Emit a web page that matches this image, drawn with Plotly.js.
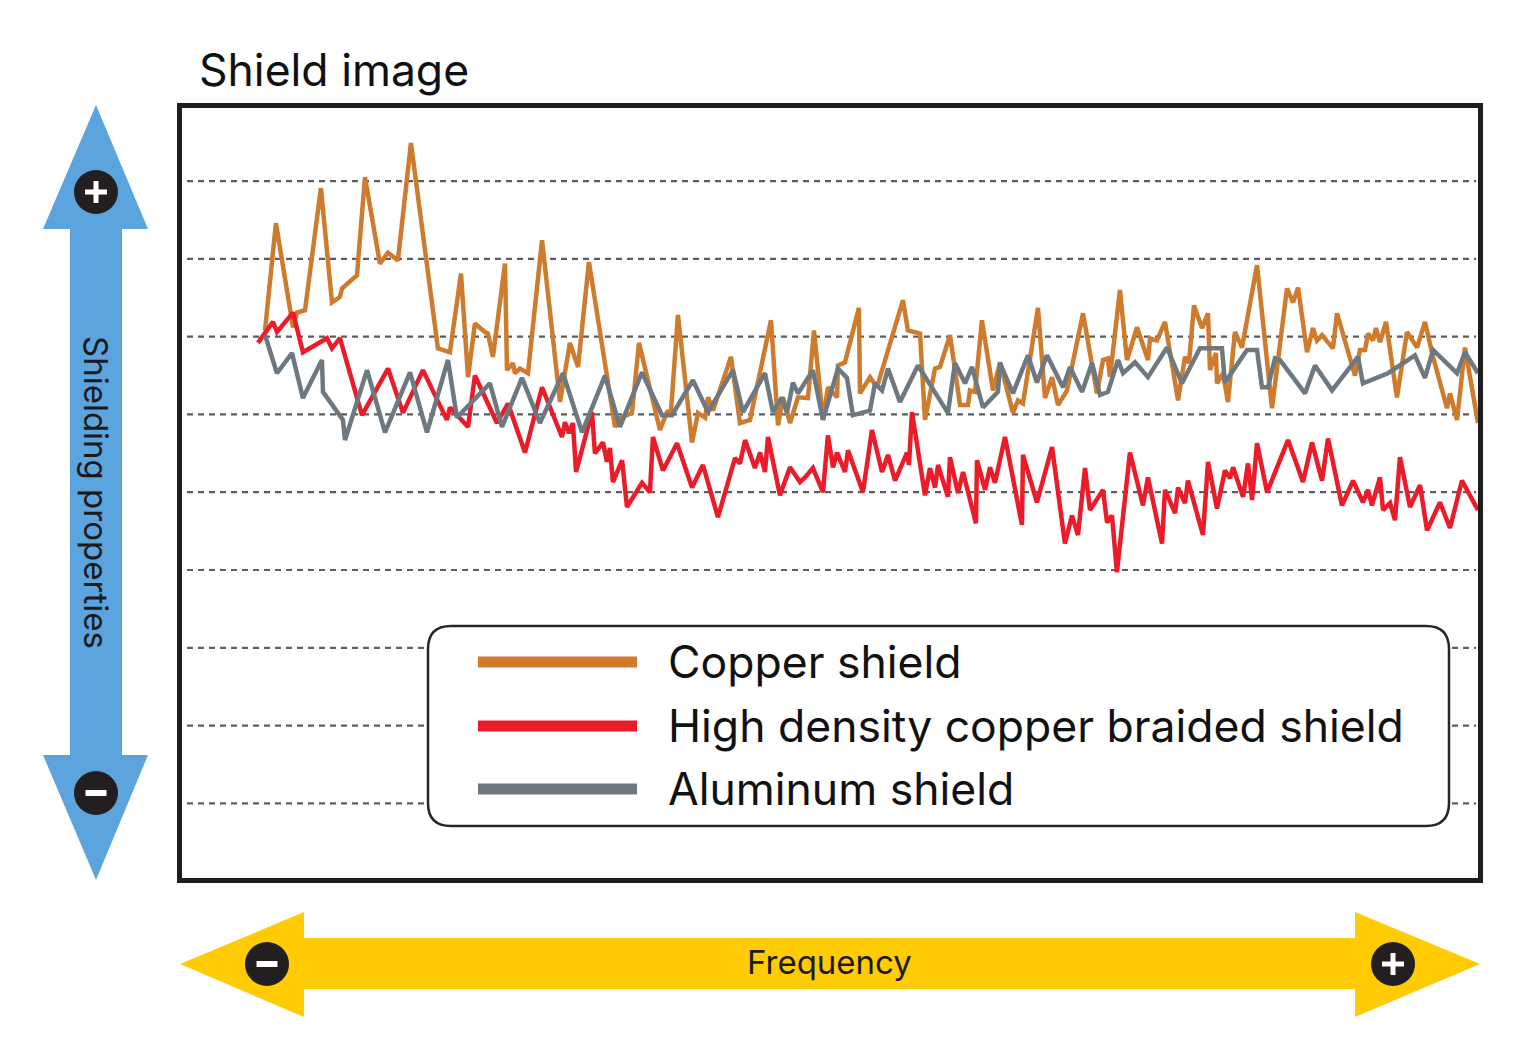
<!DOCTYPE html>
<html>
<head>
<meta charset="utf-8">
<script src="https://cdn.plot.ly/plotly-3.0.1.min.js"></script>
<style>
  html, body { margin: 0; padding: 0; background: #fff; }
  #chart { width: 1528px; height: 1046px; }
</style>
</head>
<body>
<div id="chart"></div>
<script>
// frequency (0-100, arbitrary) and shielding level (0-10, arbitrary)
let copperX = [6.68, 7.52, 8.83, 9.13, 9.75, 10.97, 11.82, 12.43, 12.59, 13.74, 14.35, 15.50, 16.12, 16.88, 17.88,
  19.95, 20.87, 21.72, 22.26, 22.79, 23.56, 23.79, 24.17, 25.10, 25.25, 25.71, 25.86, 26.25, 26.86, 27.94,
  29.32, 30.08, 30.70, 31.54, 33.54, 34.00, 34.84, 35.38, 36.99, 37.53, 37.84, 38.37, 39.45, 39.91, 40.45,
  40.68, 41.06, 42.44, 43.13, 43.90, 45.51, 46.05, 46.43, 46.97, 47.58, 48.35, 48.81, 49.50, 49.88, 50.58,
  50.65, 51.19, 52.26, 52.34, 53.11, 53.65, 55.64, 56.02, 56.95, 57.33, 58.10, 58.48, 59.25, 60.02, 60.63,
  60.78, 61.17, 61.70, 62.55, 63.09, 64.08, 64.47, 64.85, 66.00, 66.54, 67.08, 67.54, 68.23, 69.46, 70.53,
  70.99, 71.37, 71.53, 72.29, 72.83, 73.60, 74.44, 74.60, 75.13, 75.75, 76.75, 77.28, 77.59, 77.97, 78.59,
  79.05, 79.20, 79.66, 79.74, 80.20, 80.58, 81.12, 81.66, 82.81, 83.96, 85.11, 85.57, 85.96, 86.65, 87.11,
  87.41, 87.80, 88.64, 88.95, 90.33, 90.71, 91.10, 91.33, 91.71, 91.94, 92.25, 92.71, 93.55, 94.32, 95.09,
  95.70, 96.32, 97.01, 97.39, 97.62, 98.16, 98.77, 99.77]
let copperY = [7.08, 8.46, 7.12, 7.31, 7.34, 8.91, 7.44, 7.51, 7.62, 7.79, 9.05, 7.94, 8.08, 7.98, 9.49,
  6.85, 6.80, 7.81, 6.48, 7.17, 7.06, 7.04, 6.74, 7.94, 6.57, 6.66, 6.53, 6.59, 6.53, 8.24,
  6.16, 6.92, 6.61, 7.96, 5.84, 5.96, 6.02, 6.92, 5.80, 6.03, 6.05, 7.28, 5.64, 6.02, 5.96,
  6.22, 6.05, 6.74, 5.89, 5.93, 7.21, 5.86, 6.22, 5.89, 6.22, 6.21, 7.08, 5.93, 6.35, 6.22,
  6.63, 6.67, 7.37, 6.27, 6.48, 6.35, 7.47, 7.08, 7.04, 5.93, 6.59, 6.61, 7.02, 6.12, 6.12,
  6.31, 6.29, 7.21, 6.31, 6.67, 6.02, 6.18, 6.14, 7.37, 6.21, 6.48, 6.12, 6.31, 7.30, 6.27,
  6.70, 6.72, 6.48, 7.60, 6.70, 7.12, 6.70, 6.98, 6.95, 7.19, 6.18, 6.74, 6.66, 7.40, 7.11,
  7.30, 6.57, 6.79, 6.40, 6.53, 6.16, 7.06, 6.86, 7.92, 6.08, 7.62, 7.44, 7.63, 6.80, 7.11,
  6.95, 7.02, 6.85, 7.30, 6.50, 6.83, 6.83, 7.04, 6.95, 7.11, 6.93, 7.19, 6.22, 7.06, 6.86,
  7.19, 6.74, 6.34, 6.08, 6.27, 5.93, 6.86, 5.89]

let braidedX = [6.14, 7.29, 7.60, 8.83, 9.59, 11.44, 11.82, 12.43, 14.12, 16.12, 17.27, 18.80, 20.64, 20.87, 22.26,
  22.79, 24.48, 25.33, 26.63, 27.94, 29.47, 29.70, 30.01, 30.31, 30.55, 31.77, 32.00, 32.62, 32.92, 33.15,
  33.38, 34.08, 34.46, 35.61, 36.22, 36.45, 37.22, 38.30, 39.45, 40.29, 41.44, 42.75, 43.13, 43.52, 44.28,
  44.67, 45.05, 45.28, 46.20, 46.97, 47.74, 48.12, 48.73, 49.50, 49.88, 50.27, 50.58, 51.19, 51.42, 52.57,
  53.26, 54.03, 54.49, 55.03, 55.95, 56.10, 56.33, 57.33, 57.71, 58.10, 58.33, 59.09, 59.25, 59.86, 60.25,
  61.24, 61.32, 61.94, 62.32, 62.70, 63.47, 64.77, 64.85, 65.92, 67.08, 68.07, 68.61, 69.07, 69.61, 69.99,
  70.99, 71.30, 71.68, 72.06, 73.06, 74.06, 74.44, 75.52, 75.75, 76.52, 76.75, 77.28, 77.51, 78.66, 79.05,
  79.74, 80.35, 80.74, 80.97, 81.74, 82.12, 82.43, 82.81, 83.58, 85.19, 86.34, 87.03, 87.80, 88.26, 89.33,
  90.18, 90.94, 91.33, 91.63, 92.25, 92.48, 93.02, 93.40, 93.78, 94.55, 95.32, 95.86, 96.85, 97.62, 98.54,
  99.77]
let braidedY = [6.92, 7.19, 7.06, 7.31, 6.80, 6.98, 6.85, 6.98, 5.99, 6.59, 6.02, 6.57, 5.93, 6.09, 5.84,
  6.50, 5.89, 6.14, 5.51, 6.35, 5.71, 5.90, 5.76, 5.89, 5.26, 6.03, 5.50, 5.64, 5.39, 5.57,
  5.13, 5.41, 4.81, 5.12, 5.00, 5.71, 5.28, 5.63, 5.06, 5.35, 4.68, 5.44, 5.37, 5.67, 5.31,
  5.51, 5.26, 5.71, 4.96, 5.32, 5.13, 5.19, 5.31, 5.00, 5.73, 5.32, 5.51, 5.26, 5.54, 5.00,
  5.80, 5.26, 5.48, 5.15, 5.51, 5.35, 6.03, 4.96, 5.31, 5.06, 5.35, 4.94, 5.45, 4.99, 5.26,
  4.60, 5.41, 5.03, 5.32, 5.12, 5.71, 4.58, 5.48, 4.87, 5.58, 4.34, 4.70, 4.45, 5.31, 4.77,
  5.03, 4.61, 4.70, 3.97, 5.51, 4.83, 5.19, 4.34, 5.03, 4.73, 5.06, 4.86, 5.15, 4.45, 5.39,
  4.79, 5.28, 5.18, 5.32, 4.94, 5.37, 4.90, 5.63, 5.00, 5.67, 5.13, 5.64, 5.15, 5.69, 4.83,
  5.15, 4.87, 5.03, 4.83, 5.19, 4.77, 4.86, 4.64, 5.45, 4.81, 5.09, 4.51, 4.87, 4.54, 5.15,
  4.77]

let aluminumX = [6.68, 7.60, 8.75, 9.59, 11.05, 11.13, 12.66, 12.82, 14.51, 15.89, 17.81, 19.11, 20.72, 21.41, 23.94,
  24.87, 26.40, 27.78, 29.55, 31.01, 32.77, 33.92, 35.61, 37.15, 37.91, 39.52, 40.68, 42.59, 43.36, 45.05,
  45.66, 46.35, 46.74, 47.20, 47.58, 48.73, 49.50, 50.65, 51.34, 51.80, 53.11, 53.49, 54.03, 54.49, 55.41,
  56.79, 59.09, 59.63, 60.40, 60.94, 61.78, 62.93, 63.09, 64.08, 65.23, 65.92, 66.69, 67.92, 68.46, 69.38,
  70.15, 70.76, 71.37, 72.14, 72.53, 73.45, 74.44, 75.90, 77.05, 78.43, 80.12, 80.35, 82.04, 82.81, 83.19,
  83.65, 84.19, 84.57, 86.49, 87.26, 88.57, 90.56, 90.94, 92.86, 94.93, 95.70, 96.32, 98.16, 98.77, 99.77]
let aluminumY = [7.02, 6.53, 6.79, 6.21, 6.70, 6.29, 5.93, 5.67, 6.57, 5.77, 6.54, 5.77, 6.70, 5.96, 6.40,
  5.84, 6.47, 5.89, 6.53, 5.77, 6.50, 5.84, 6.54, 5.99, 5.99, 6.44, 6.03, 6.57, 6.03, 6.53,
  6.03, 6.22, 6.02, 6.41, 6.27, 6.57, 5.93, 6.59, 6.47, 5.99, 6.05, 6.40, 6.31, 6.59, 6.16,
  6.63, 6.02, 6.66, 6.40, 6.61, 6.09, 6.29, 6.66, 6.27, 6.76, 6.41, 6.76, 6.35, 6.61, 6.29,
  6.66, 6.25, 6.29, 6.70, 6.53, 6.67, 6.48, 6.86, 6.40, 6.85, 6.85, 6.41, 6.83, 6.83, 6.35,
  6.35, 6.72, 6.70, 6.27, 6.63, 6.31, 6.74, 6.40, 6.53, 6.76, 6.47, 6.83, 6.53, 6.80, 6.53]

let seriesNames = ['Copper shield', 'High density copper braided shield', 'Aluminum shield']
let seriesColors = ['#cf7b2e', '#eb1c29', '#6e7880']
let gridLevels = [1, 2, 3, 4, 5, 6, 7, 8, 9]

// page geometry, used for the decorations around the plot
const W = 1528, H = 1046
const M = { l: 182, r: 50, t: 108, b: 168 }
const plotW = W - M.l - M.r
const plotH = H - M.t - M.b
function px(x) { return (x - M.l) / plotW }
function py(y) { return (H - M.b - y) / plotH }
function poly(pts) {
    return 'M' + pts.map(p => px(p[0]) + ',' + py(p[1])).join('L') + 'Z'
}
function rect(x0, y0, x1, y1, color) {
    return { type: 'rect', xref: 'paper', yref: 'paper', x0: px(x0), x1: px(x1), y0: py(y1), y1: py(y0),
        fillcolor: color, line: { width: 0 }, layer: 'above' }
}
function badge(cx, cy, plus) {
    let s = [{ type: 'circle', xref: 'paper', yref: 'paper', x0: px(cx - 22), x1: px(cx + 22),
        y0: py(cy + 22), y1: py(cy - 22), fillcolor: '#231f20', line: { width: 0 }, layer: 'above' }]
    if (plus) {
        s.push(rect(cx - 11, cy - 2.5, cx + 11, cy + 2.5, '#fff'))
        s.push(rect(cx - 2.5, cy - 11, cx + 2.5, cy + 11, '#fff'))
    } else {
        s.push(rect(cx - 10.5, cy - 3, cx + 10.5, cy + 3, '#fff'))
    }
    return s
}
function roundBox(x0, y0, x1, y1, r) {
    let P = (x, y) => px(x) + ',' + py(y)
    return 'M' + P(x0 + r, y0) + 'L' + P(x1 - r, y0) + 'Q' + P(x1, y0) + ' ' + P(x1, y0 + r) +
        'L' + P(x1, y1 - r) + 'Q' + P(x1, y1) + ' ' + P(x1 - r, y1) +
        'L' + P(x0 + r, y1) + 'Q' + P(x0, y1) + ' ' + P(x0, y1 - r) +
        'L' + P(x0, y0 + r) + 'Q' + P(x0, y0) + ' ' + P(x0 + r, y0) + 'Z'
}

let xs = [copperX, braidedX, aluminumX]
let ys = [copperY, braidedY, aluminumY]
let traces = []
for (let i = 0; i < 3; i++) {
    traces.push({
        x: xs[i],
        y: ys[i],
        name: seriesNames[i],
        mode: 'lines',
        line: { color: seriesColors[i], width: 4.5 },
        hoverinfo: 'skip'
    })
}

let shapes = []
// dashed guide lines, a little inset from the frame
for (let i = 0; i < gridLevels.length; i++) {
    shapes.push({ type: 'line', xref: 'paper', yref: 'y', layer: 'below',
        x0: px(187), x1: px(1476), y0: gridLevels[i], y1: gridLevels[i],
        line: { color: '#5e5e5e', width: 2.2, dash: '6px,5px' } })
}
shapes.push(
    { type: 'path', xref: 'paper', yref: 'paper', layer: 'above', fillcolor: '#5ba4de', line: { width: 0 },
      path: poly([[96, 105], [148, 229], [122, 229], [122, 755], [148, 755], [96, 880], [43, 755], [70, 755], [70, 229], [43, 229]]) },
    { type: 'path', xref: 'paper', yref: 'paper', layer: 'above', fillcolor: '#ffcb05', line: { width: 0 },
      path: poly([[180, 964], [304, 912], [304, 938], [1355, 938], [1355, 912], [1480, 964], [1355, 1017], [1355, 989], [304, 989], [304, 1017]]) },
    { type: 'path', xref: 'paper', yref: 'paper', layer: 'above', fillcolor: '#fff', line: { color: '#262626', width: 2.5 },
      path: roundBox(428, 626, 1449, 826, 23) }
)
shapes = shapes.concat(badge(96, 192, true), badge(96, 793, false), badge(267, 964, false), badge(1393, 964, true))

let annotations = [
    { text: 'Shielding properties', xref: 'paper', yref: 'paper', x: px(96), y: py(492), textangle: 90,
      xanchor: 'center', yanchor: 'middle', showarrow: false, font: { size: 33, color: '#1a1a1a' } },
    { text: 'Frequency', xref: 'paper', yref: 'paper', x: px(829), y: py(962),
      xanchor: 'center', yanchor: 'middle', showarrow: false, font: { size: 33, color: '#1a1a1a' } }
]
let legendRows = [662, 726, 789]
for (let i = 0; i < 3; i++) {
    shapes.push({ type: 'line', xref: 'paper', yref: 'paper', layer: 'above',
        x0: px(478), x1: px(637), y0: py(legendRows[i]), y1: py(legendRows[i]),
        line: { color: seriesColors[i], width: 11 } })
    annotations.push({ text: seriesNames[i], xref: 'paper', yref: 'paper', x: px(666), y: py(legendRows[i]),
        xanchor: 'left', yanchor: 'middle', showarrow: false, font: { size: 44.5, color: '#111' } })
}

Plotly.newPlot('chart', traces, {
    width: W,
    height: H,
    margin: M,
    paper_bgcolor: '#fff',
    plot_bgcolor: '#fff',
    font: { family: 'Inter, "Noto Sans", sans-serif', color: '#111' },
    showlegend: false,
    title: { text: 'Shield image', font: { size: 44.5, color: '#111' }, xref: 'paper', x: px(199),
             xanchor: 'left', yref: 'container', y: 1 - 70 / H, yanchor: 'middle' },
    xaxis: { range: [0.31, 99.77], showgrid: false, zeroline: false, showticklabels: false, ticks: '',
             showline: true, mirror: true, linecolor: '#1e1e1e', linewidth: 5 },
    yaxis: { range: [0.04, 9.94], showgrid: false, zeroline: false, showticklabels: false, ticks: '',
             showline: true, mirror: true, linecolor: '#1e1e1e', linewidth: 5 },
    shapes: shapes,
    annotations: annotations
}, { staticPlot: true })
</script>
</body>
</html>
